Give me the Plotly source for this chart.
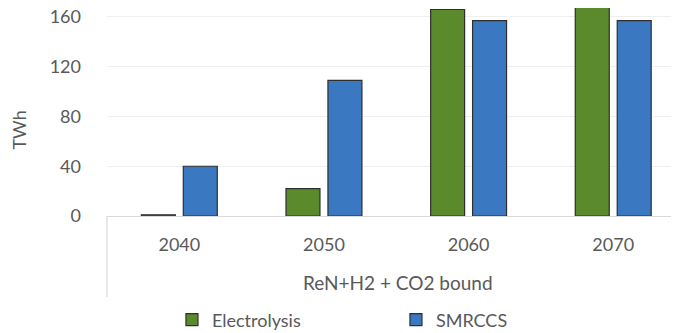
import plotly.graph_objects as go

# colores y datos
VERDE = "#5A8A2B"
AZUL = "#3A78C1"
BORDE = "#2F2F2F"
GRIS_TEXTO = "#595959"
GRID = "#EFEFEF"
EJE = "#D9D9D9"

anios = ["2040", "2050", "2060", "2070"]
electrolysis = [1, 22, 166, 180]
smrccs = [40, 109, 157, 157]

FUENTE = "Lato, Open Sans, sans-serif"
TAM = 18

fig = go.Figure()
fig.add_trace(go.Bar(
    x=anios, y=electrolysis, name="Electrolysis",
    marker=dict(color=VERDE, line=dict(color=BORDE, width=1.2))
))
fig.add_trace(go.Bar(
    x=anios, y=smrccs, name="SMRCCS",
    marker=dict(color=AZUL, line=dict(color=BORDE, width=1.2))
))

fig.update_layout(
    width=679, height=333,
    margin=dict(l=99, r=0, t=0, b=125, autoexpand=False),
    paper_bgcolor="white", plot_bgcolor="white",
    font=dict(family=FUENTE, size=TAM, color=GRIS_TEXTO),
    barmode="group", bargap=0.42, bargroupgap=0.19,
    showlegend=True,
    legend=dict(orientation="h", x=0.112, xanchor="left", y=-0.5, yanchor="middle",
                entrywidth=179, entrywidthmode="pixels",
                font=dict(size=TAM, color=GRIS_TEXTO)),
    xaxis=dict(range=[-0.5, 3.51], showgrid=False, showline=False, ticks="",
               tickfont=dict(size=TAM, color=GRIS_TEXTO), ticklabelstandoff=16,
               automargin=False),
    yaxis=dict(range=[0, 167.2], tickvals=[0, 40, 80, 120, 160], showgrid=True,
               gridcolor=GRID, gridwidth=1, zeroline=True, zerolinecolor=EJE,
               zerolinewidth=1.2, showline=False, ticks="",
               tickfont=dict(size=TAM, color=GRIS_TEXTO), ticklabelstandoff=25,
               ticklabeloverflow="allow", automargin=False),
    annotations=[
        dict(text="TWh", xref="paper", yref="paper", x=-0.151, y=0.413,
             xanchor="center", yanchor="middle",
             showarrow=False, textangle=-90, font=dict(size=TAM, color=GRIS_TEXTO)),
        dict(text="ReN+H2 + CO2 bound", xref="paper", yref="paper", x=0.501, y=-0.322,
             xanchor="center", yanchor="middle",
             showarrow=False, font=dict(size=TAM + 1, color=GRIS_TEXTO)),
    ],
    shapes=[
        dict(type="line", xref="paper", yref="paper", x0=0, x1=0, y0=0, y1=-0.389,
             line=dict(color=EJE, width=1.2)),
    ],
)

fig.write_html("out.html")
